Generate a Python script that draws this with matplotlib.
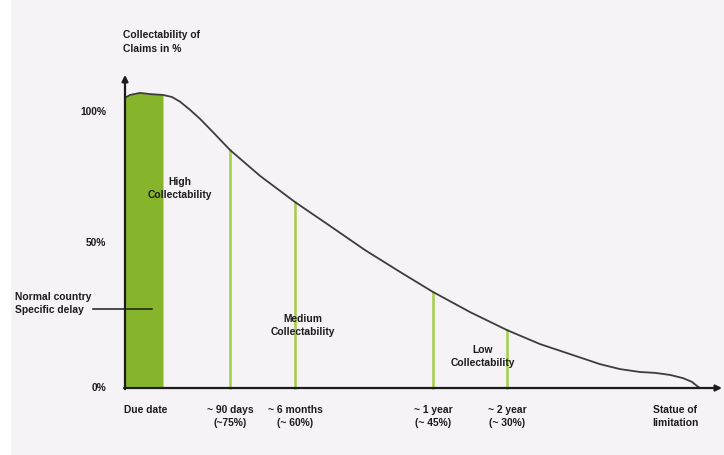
import matplotlib
matplotlib.use("Agg")
import matplotlib.pyplot as plt
from matplotlib.patches import Rectangle

plt.rcParams['font.family'] = ['Liberation Sans', 'DejaVu Sans']
plt.rcParams['font.weight'] = 'bold'

# collectability curve (time in arbitrary units, value in %)
curve_t = [0, 5, 15, 25, 38, 47, 55, 65, 75, 90, 105, 135, 170, 205, 240,
           275, 308, 345, 382, 415, 442, 475, 495, 515, 530, 545, 558, 567,
           572, 575]
curve_v = [99.7, 100.7, 101.4, 101.0, 100.7, 100.0, 98.4, 95.6, 92.5, 87.2,
           81.8, 72.9, 63.9, 55.7, 47.4, 39.9, 33.0, 26.1, 19.9, 15.1, 12.0,
           8.2, 6.5, 5.5, 5.2, 4.5, 3.4, 2.1, 0.7, 0.0]

# normal country specific delay (green block)
delay_end = 38

# milestones along the time axis
mile_t = [105, 170, 308, 382]
mile_v = [81.8, 63.9, 33.0, 19.9]
mile_labels = ["~ 90 days\n(~75%)", "~ 6 months\n(~ 60%)",
               "~ 1 year\n(~ 45%)", "~ 2 year\n(~ 30%)"]

y_ticks = [0, 50, 95]
y_tick_labels = ["0%", "50%", "100%"]

zones = ["High\nCollectability", "Medium\nCollectability", "Low\nCollectability"]
zone_t = [55, 178, 358]
zone_v = [68.7, 21.5, 10.7]

end_t = 550

BAR_GREEN = '#86b42a'
LINE_GREEN = '#a2cf45'
DARK = '#1c1c1c'
FS = 7.4
LS = 1.38

fig = plt.figure(figsize=(7.24, 4.55), dpi=100, facecolor='#f5f3f5')
fig.patches.append(Rectangle((0, 0), 10 / 724, 1, transform=fig.transFigure,
                             color='white', zorder=0))
ax = fig.add_axes([0, 0, 1, 1])
ax.set_facecolor('none')
ax.axis('off')
ax.set_xlim(-125, 599)
ax.set_ylim(-23.02, 133.33)

# green block under the curve up to the end of the delay
bar_t = [t for t in curve_t if t <= delay_end]
bar_v = curve_v[:len(bar_t)]
ax.fill_between(bar_t, 0, bar_v, color=BAR_GREEN, lw=0, zorder=2)

for t, v in zip(mile_t, mile_v):
    ax.plot([t, t], [0, v], color=LINE_GREEN, lw=1.8, zorder=2)

ax.plot(curve_t, curve_v, color='#3c3c3c', lw=1.3, zorder=3,
        solid_capstyle='round', solid_joinstyle='round')

# axes with arrow heads
arrow = dict(arrowstyle='-|>', lw=1.6, color=DARK, mutation_scale=9,
             shrinkA=0, shrinkB=0)
ax.annotate('', xy=(0, 107.6), xytext=(0, -0.4), arrowprops=arrow, zorder=4)
ax.annotate('', xy=(597, 0), xytext=(-1, 0), arrowprops=arrow, zorder=4)

ax.text(-2, 118.9, "Collectability of\nClaims in %", fontsize=FS,
        ha='left', va='center', linespacing=LS, color=DARK)

for v, lab in zip(y_ticks, y_tick_labels):
    ax.text(-19, v, lab, fontsize=FS, ha='right', va='center', color=DARK)

# pointer to the delay block
ax.text(-110, 29.2, "Normal country\nSpecific delay", fontsize=FS,
        ha='left', va='center', linespacing=LS, color=DARK)
ax.plot([-32, 27], [27.1, 27.1], color=DARK, lw=1.1, zorder=4)

for lab, t, v in zip(zones, zone_t, zone_v):
    ax.text(t, v, lab, fontsize=FS, ha='center', va='center',
            linespacing=LS, color=DARK, zorder=5)

ax.text(-1, -5.8, "Due date", fontsize=FS, ha='left', va='top', color=DARK)
for t, lab in zip(mile_t, mile_labels):
    ax.text(t, -5.8, lab, fontsize=FS, ha='center', va='top',
            linespacing=LS, color=DARK)
ax.text(end_t, -5.8, "Statue of\nlimitation", fontsize=FS, ha='center',
        va='top', linespacing=LS, color=DARK)

fig.savefig('out.png', dpi=100, facecolor=fig.get_facecolor())
